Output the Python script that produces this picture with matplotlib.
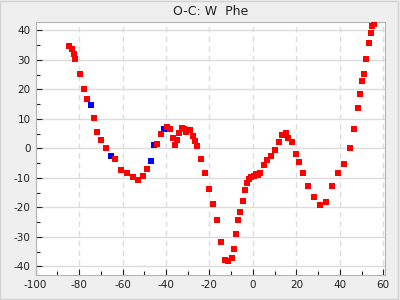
import matplotlib
matplotlib.use('Agg')
import matplotlib.pyplot as plt
from matplotlib.patches import Rectangle
from matplotlib.ticker import MultipleLocator

# O-C values (red = primary, blue = secondary)
red_x = [-84.8, -83.4, -82.5, -82.0, -79.7, -77.9, -76.5, -73.3, -71.9, -70.0,
         -67.7, -63.6, -60.5, -58.1, -55.3, -53.0, -50.7, -48.8, -44.2, -42.4,
         -39.6, -38.1, -36.9, -35.9, -35.0, -34.1, -32.7, -31.8, -30.9, -29.0,
         -27.6, -26.7, -25.8, -24.0, -22.1, -20.3, -18.4, -16.6, -14.7, -12.9,
         -11.4, -9.7, -8.8, -7.8, -6.9, -6.0, -4.6, -3.7, -2.8, -1.8,
         -0.9, 0.5, 1.4, 2.3, 3.2, 5.1, 6.5, 8.3, 10.1, 12.0,
         13.4, 15.2, 16.1, 18.0, 19.8, 21.2, 23.0, 25.3, 28.1, 30.9,
         33.6, 36.4, 39.2, 41.9, 44.7, 46.5, 48.4, 49.3, 50.2, 51.2,
         52.1, 53.5, 54.4, 54.8, 55.8]
red_y = [34.7, 33.6, 32.0, 30.3, 25.2, 20.3, 16.9, 10.2, 5.4, 3.0,
         0.1, -3.6, -7.5, -8.5, -9.8, -10.7, -9.5, -7.1, 1.4, 4.7,
         7.1, 6.4, 3.4, 1.0, 3.0, 5.1, 6.8, 6.4, 5.4, 6.1,
         4.1, 2.4, 0.7, -3.7, -8.5, -13.9, -19.0, -24.4, -31.9, -38.0,
         -38.3, -37.3, -34.2, -29.2, -24.4, -21.7, -18.0, -14.2, -11.9, -10.3,
         -9.6, -9.3, -8.7, -9.2, -8.5, -5.8, -4.1, -2.7, -0.7, 2.0,
         4.4, 5.1, 3.4, 2.0, -2.0, -4.7, -8.5, -12.9, -16.6, -19.3,
         -18.3, -12.9, -8.5, -5.4, 0.0, 6.4, 13.6, 18.6, 22.7, 25.1,
         30.2, 35.6, 39.3, 41.4, 42.1]

blue_x = [-74.7, -65.4, -47.0, -45.6, -41.0]
blue_y = [14.6, -2.7, -4.3, 1.0, 6.4]

plt.rcParams['axes.unicode_minus'] = False

fig = plt.figure(figsize=(4, 3), dpi=100, facecolor='#efefef')
# thin frame round the whole picture
fig.patches.append(Rectangle((0.001, 0.002), 0.995, 0.994, transform=fig.transFigure,
                             fill=False, edgecolor='#d2d2d2', linewidth=1))
ax = fig.add_axes([0.089, 0.083, 0.8735, 0.845])
ax.set_facecolor('white')

# blue drawn first, red sits on top where they overlap
ax.plot(blue_x, blue_y, 's', color='#0000ff', markersize=4.8, markeredgewidth=0, zorder=3)
ax.plot(red_x, red_y, 's', color='#ff0000', markersize=4.8, markeredgewidth=0, zorder=4)

ax.set_xlim(-100, 60.8)
ax.set_ylim(-43, 43)
ax.xaxis.set_major_locator(MultipleLocator(20))
ax.xaxis.set_minor_locator(MultipleLocator(10))
ax.yaxis.set_major_locator(MultipleLocator(10))
ax.yaxis.set_minor_locator(MultipleLocator(5))

ax.grid(axis='y', which='major', color='#dcdcdc', linestyle='-', linewidth=1)
ax.grid(axis='x', which='major', color='#dcdcdc', linestyle=(0, (4, 3)), linewidth=1)
ax.set_axisbelow(True)

ax.tick_params(which='both', direction='in', colors='#222222', labelsize=7.5)
ax.tick_params(which='major', length=4, width=0.8)
ax.tick_params(which='minor', length=3, width=0.8)
for s in ax.spines.values():
    s.set_color('#b4b4b4')

ax.set_title('O-C: W  Phe', fontsize=9, color='#222222', pad=5)

plt.savefig('out.png', dpi=100, facecolor=fig.get_facecolor())
